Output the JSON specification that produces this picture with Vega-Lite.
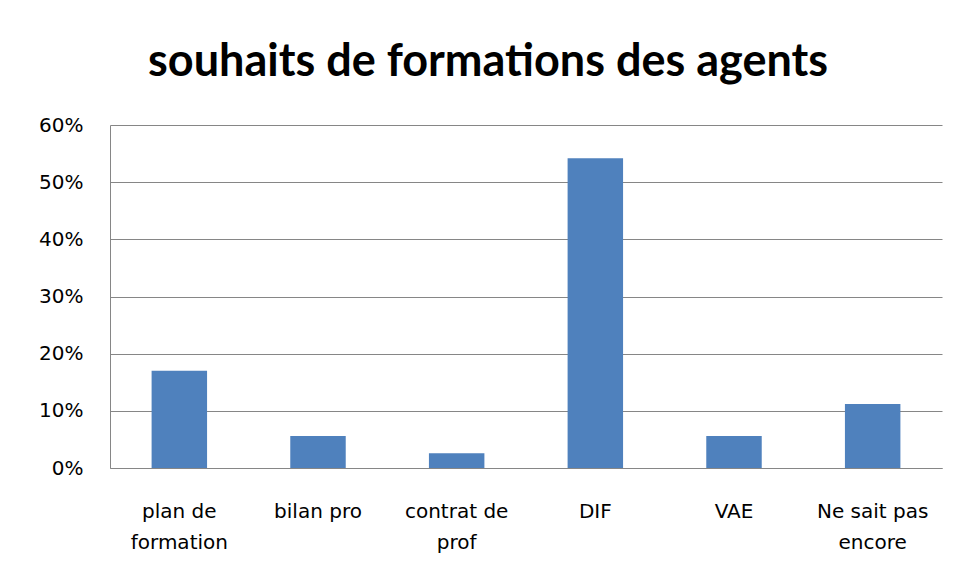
{
  "$schema": "https://vega.github.io/schema/vega-lite/v6.json",
  "autosize": "none",
  "width": 832,
  "height": 343,
  "padding": {"left": 110, "top": 125, "right": 13, "bottom": 113},
  "background": "white",
  "title": {
    "text": "souhaits de formations des agents",
    "font": "Lato",
    "fontWeight": "bold",
    "fontSize": 45,
    "color": "#000000",
    "anchor": "middle",
    "dx": -38,
    "offset": 30
  },
  "data": {
    "values": [
      {"type": "plan de formation", "pct": 0.17},
      {"type": "bilan pro", "pct": 0.056},
      {"type": "contrat de prof", "pct": 0.026},
      {"type": "DIF", "pct": 0.542},
      {"type": "VAE", "pct": 0.056},
      {"type": "Ne sait pas encore", "pct": 0.112}
    ]
  },
  "mark": {"type": "bar", "color": "#4F81BD"},
  "encoding": {
    "x": {
      "field": "type",
      "type": "nominal",
      "sort": null,
      "title": null,
      "scale": {"paddingInner": 0.6, "paddingOuter": 0.3},
      "axis": {
        "labelAngle": 0,
        "labelFont": "DejaVu Sans",
        "labelFontSize": 20,
        "labelColor": "#000000",
        "labelPadding": 33,
        "labelLineHeight": 31,
        "labelBaseline": "top",
        "ticks": false,
        "domainColor": "#868686",
        "domainWidth": 1,
        "labelExpr": "datum.value == 'plan de formation' ? ['plan de', 'formation'] : datum.value == 'contrat de prof' ? ['contrat de', 'prof'] : datum.value == 'Ne sait pas encore' ? ['Ne sait pas', 'encore'] : datum.value"
      }
    },
    "y": {
      "field": "pct",
      "type": "quantitative",
      "title": null,
      "scale": {"domain": [0, 0.6], "nice": false},
      "axis": {
        "values": [0, 0.1, 0.2, 0.3, 0.4, 0.5, 0.6],
        "format": ".0%",
        "labelFont": "DejaVu Sans",
        "labelFontSize": 20,
        "labelColor": "#000000",
        "labelPadding": 27,
        "ticks": false,
        "domainColor": "#868686",
        "gridColor": "#868686",
        "gridWidth": 1,
        "gridOpacity": 1
      }
    }
  },
  "config": {"view": {"stroke": null}}
}
